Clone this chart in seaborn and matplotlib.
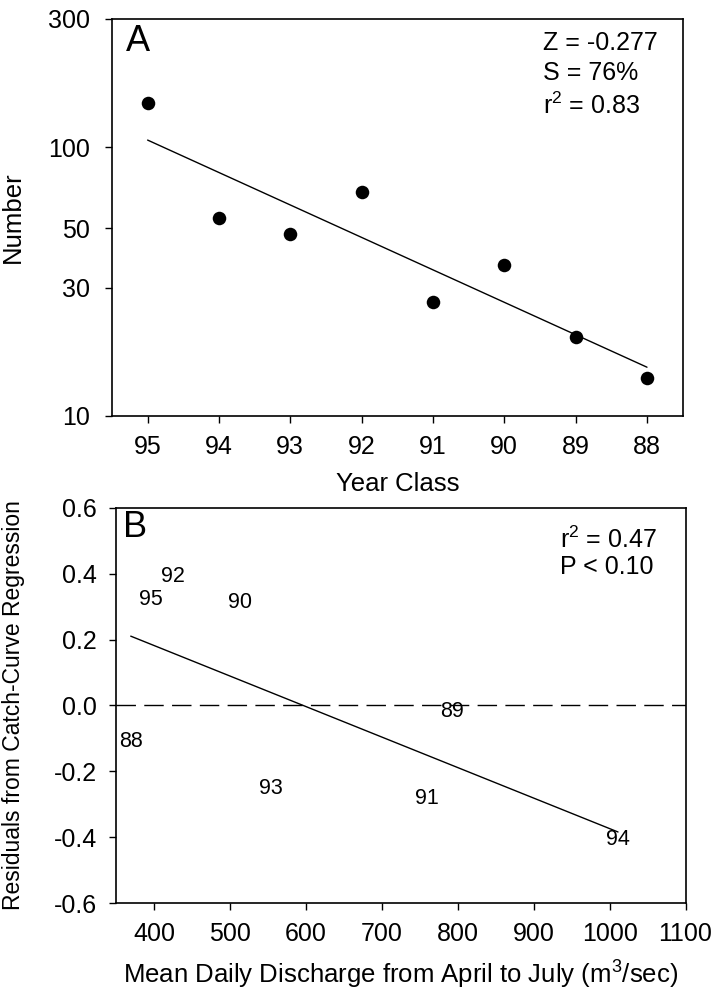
import numpy as np
import matplotlib
matplotlib.use('Agg')
import matplotlib.pyplot as plt
import seaborn as sns

# Painel A - curva de captura (numero por classe anual)
classes_ano = ['95', '94', '93', '92', '91', '90', '89', '88']
numero = [146, 54.5, 47.6, 68, 26.6, 36.4, 19.7, 13.8]

# Painel B - residuos da curva de captura vs vazao media
rotulos_b = ['95', '92', '90', '88', '93', '89', '91', '94']
vazao = [395, 424, 513, 369, 554, 792, 759, 1011]
residuos = [0.321, 0.391, 0.312, -0.109, -0.252, -0.018, -0.282, -0.406]

sns.set_theme(style='ticks')
plt.rcParams['font.family'] = ['Liberation Sans', 'DejaVu Sans']
plt.rcParams['mathtext.fontset'] = 'custom'
plt.rcParams['mathtext.rm'] = 'Liberation Sans'
plt.rcParams['mathtext.default'] = 'regular'
plt.rcParams['text.color'] = 'black'
plt.rcParams['axes.labelcolor'] = 'black'

TICK = 18
LAB = 18.5


def estilo_eixo(ax, pad_y=9):
    for s in ax.spines.values():
        s.set_linewidth(1.2)
        s.set_color('black')
    ax.tick_params(direction='out', length=5, width=1, colors='black',
                   labelsize=TICK, pad=9)
    ax.tick_params(axis='y', pad=pad_y)


fig = plt.figure(figsize=(7.27, 9.94), dpi=100)

# ---------- Painel A ----------
ax1 = fig.add_axes([0.154, 0.5815, 0.785, 0.3995])
sns.scatterplot(x=classes_ano, y=numero, ax=ax1, color='black', s=95,
                edgecolor='black', linewidth=0, zorder=3)

# regressao log-linear (curva de captura)
pos = np.arange(len(classes_ano))
coef = np.polyfit(pos, np.log10(numero), 1)
ajuste = 10 ** np.polyval(coef, pos)
sns.lineplot(x=classes_ano, y=ajuste, ax=ax1, color='black', lw=1, sort=False)

ax1.set_yscale('log')
ax1.set_ylim(10, 300)
ax1.set_yticks([10, 30, 50, 100, 300])
ax1.set_yticklabels(['10', '30', '50', '100', '300'])
ax1.yaxis.set_minor_locator(matplotlib.ticker.NullLocator())
ax1.set_xlim(-0.5, 7.5)
ax1.set_xlabel('Year Class', fontsize=LAB)
ax1.set_ylabel('Number', fontsize=LAB)
ax1.yaxis.set_label_coords(-0.152, 0.5)
ax1.xaxis.set_label_coords(0.5, -0.14)
estilo_eixo(ax1, pad_y=11)

ax1.text(0.024, 0.943, 'A', transform=ax1.transAxes, fontsize=26,
         ha='left', va='center')
ax1.text(0.755, 0.94, 'Z = -0.277', transform=ax1.transAxes, fontsize=TICK,
         ha='left', va='center')
ax1.text(0.755, 0.864, 'S = 76%', transform=ax1.transAxes, fontsize=TICK,
         ha='left', va='center')
ax1.text(0.755, 0.78, 'r$^2$ = 0.83', transform=ax1.transAxes, fontsize=TICK,
         ha='left', va='center')

# ---------- Painel B ----------
ax2 = fig.add_axes([0.16, 0.0915, 0.783, 0.3975])
sns.regplot(x=vazao, y=residuos, ax=ax2, scatter=False, ci=None,
            color='black', line_kws=dict(lw=1))
ax2.axhline(0, color='black', lw=1, dashes=(14, 6))

for rot, xv, yv in zip(rotulos_b, vazao, residuos):
    ax2.text(xv, yv, rot, fontsize=15.5, ha='center', va='center')

ax2.set_xlim(350, 1100)
ax2.set_ylim(-0.6, 0.6)
ax2.set_xticks(range(400, 1101, 100))
ax2.set_yticks([-0.6, -0.4, -0.2, 0.0, 0.2, 0.4, 0.6])
ax2.set_yticklabels(['-0.6', '-0.4', '-0.2', '0.0', '0.2', '0.4', '0.6'])
ax2.set_xlabel('Mean Daily Discharge from April to July (m$^3$/sec)', fontsize=LAB)
ax2.set_ylabel('Residuals from Catch-Curve Regression', fontsize=16.5)
ax2.yaxis.set_label_coords(-0.16, 0.5)
ax2.xaxis.set_label_coords(0.5, -0.14)
estilo_eixo(ax2)

ax2.text(0.012, 0.95, 'B', transform=ax2.transAxes, fontsize=26,
         ha='left', va='center')
ax2.text(0.779, 0.919, 'r$^2$ = 0.47', transform=ax2.transAxes, fontsize=TICK,
         ha='left', va='center')
ax2.text(0.779, 0.851, 'P < 0.10', transform=ax2.transAxes, fontsize=TICK,
         ha='left', va='center')

fig.savefig('out.png', dpi=100)
